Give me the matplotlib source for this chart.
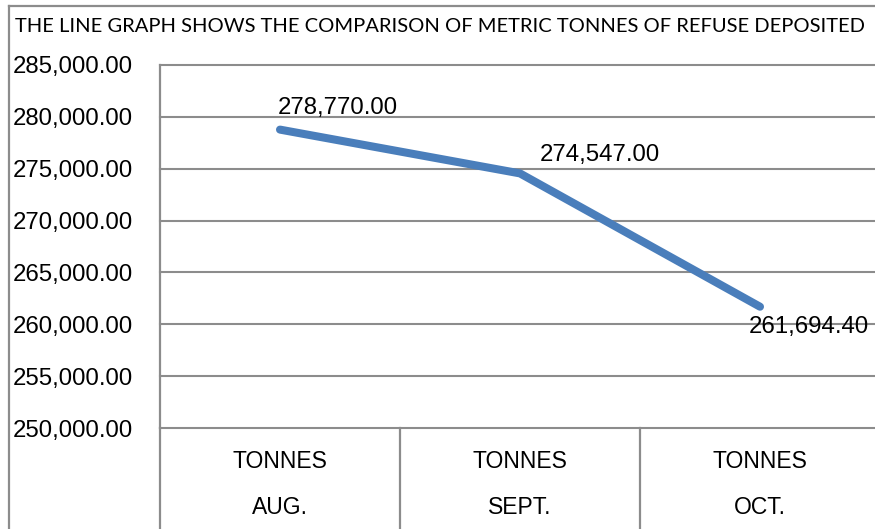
import matplotlib
matplotlib.use("Agg")
import matplotlib.pyplot as plt
from matplotlib.lines import Line2D
import matplotlib.transforms as mtransforms

title = "THE LINE GRAPH SHOWS THE COMPARISON OF METRIC TONNES OF REFUSE DEPOSITED"
months = ["AUG.", "SEPT.", "OCT."]
row_label = ["TONNES", "TONNES", "TONNES"]
tonnes = [278770.00, 274547.00, 261694.40]
y_ticks = [250000, 255000, 260000, 265000, 270000, 275000, 280000, 285000]

W, H = 875, 529
fig = plt.figure(figsize=(W / 100, H / 100), dpi=100)
fig.patch.set_facecolor("white")

FONT = ["Liberation Sans", "DejaVu Sans"]
GRID = "#8c8c8c"

ax = fig.add_axes([160 / W, (H - 428) / H, 720 / W, 363 / H])
ax.set_facecolor("white")
x = list(range(len(months)))
ax.plot(x, tonnes, color="#4A7EBB", lw=5.8, solid_capstyle="round",
        solid_joinstyle="round", zorder=3)
ax.set_xlim(-0.5, len(months) - 0.5)
ax.set_ylim(y_ticks[0], y_ticks[-1])
ax.set_yticks(y_ticks)
ax.set_yticklabels([f"{v:,.2f}" for v in y_ticks], fontfamily=FONT, fontsize=17.3)
ax.tick_params(axis="y", length=0, pad=19.5, colors="black")
ax.set_xticks([])
for s in ["top", "right", "bottom"]:
    ax.spines[s].set_visible(False)
ax.spines["left"].set_color(GRID)
ax.spines["left"].set_linewidth(1.6)
ax.yaxis.grid(True, color=GRID, lw=1.5)
ax.set_axisbelow(True)
for gl in ax.get_ygridlines():
    gl.set_clip_on(False)

# data labels
offsets = [(-2, 22, "bottom"), (20, 18, "bottom"), (-11, -20, "top")]
for xi, v, (dx, dy, va) in zip(x, tonnes, offsets):
    ax.annotate(f"{v:,.2f}", (xi, v), xytext=(dx, dy), textcoords="offset pixels",
                ha="left", va="center", fontfamily=FONT, fontsize=17.3, color="black")

# category table below the plot
trans = mtransforms.blended_transform_factory(ax.transData, ax.transAxes)
bottom_ax = -(H - 428) / 363
for b in [i + 0.5 for i in x[:-1]]:
    ax.add_line(Line2D([b, b], [0, bottom_ax], transform=trans, color=GRID,
                       lw=1.6, clip_on=False))
ax.add_line(Line2D([-0.5, -0.5], [0, bottom_ax], transform=trans, color=GRID,
                   lw=1.6, clip_on=False))
for xi, r, m in zip(x, row_label, months):
    ax.text(xi, -(462 - 428) / 363, r, transform=trans, ha="center", va="center",
            fontfamily=FONT, fontsize=16.5)
    ax.text(xi, -(508 - 428) / 363, m, transform=trans, ha="center", va="center",
            fontfamily=FONT, fontsize=16.5)

# outer border (top and left)
fig.add_artist(Line2D([9 / W, 1], [1 - 5.5 / H, 1 - 5.5 / H], transform=fig.transFigure,
                      color=GRID, lw=1.6))
fig.add_artist(Line2D([9 / W, 9 / W], [0, 1 - 5.5 / H], transform=fig.transFigure,
                      color=GRID, lw=1.6))

# title, fitted to width
t = fig.text(15 / W, 1 - 26 / H, title, ha="left", va="center",
             fontfamily=["Lato", "DejaVu Sans"], fontsize=12)
fig.canvas.draw()
r = fig.canvas.get_renderer()
w = t.get_window_extent(r).width
t.set_fontsize(12 * 845 / w)

fig.savefig("out.png", dpi=100, facecolor="white")
